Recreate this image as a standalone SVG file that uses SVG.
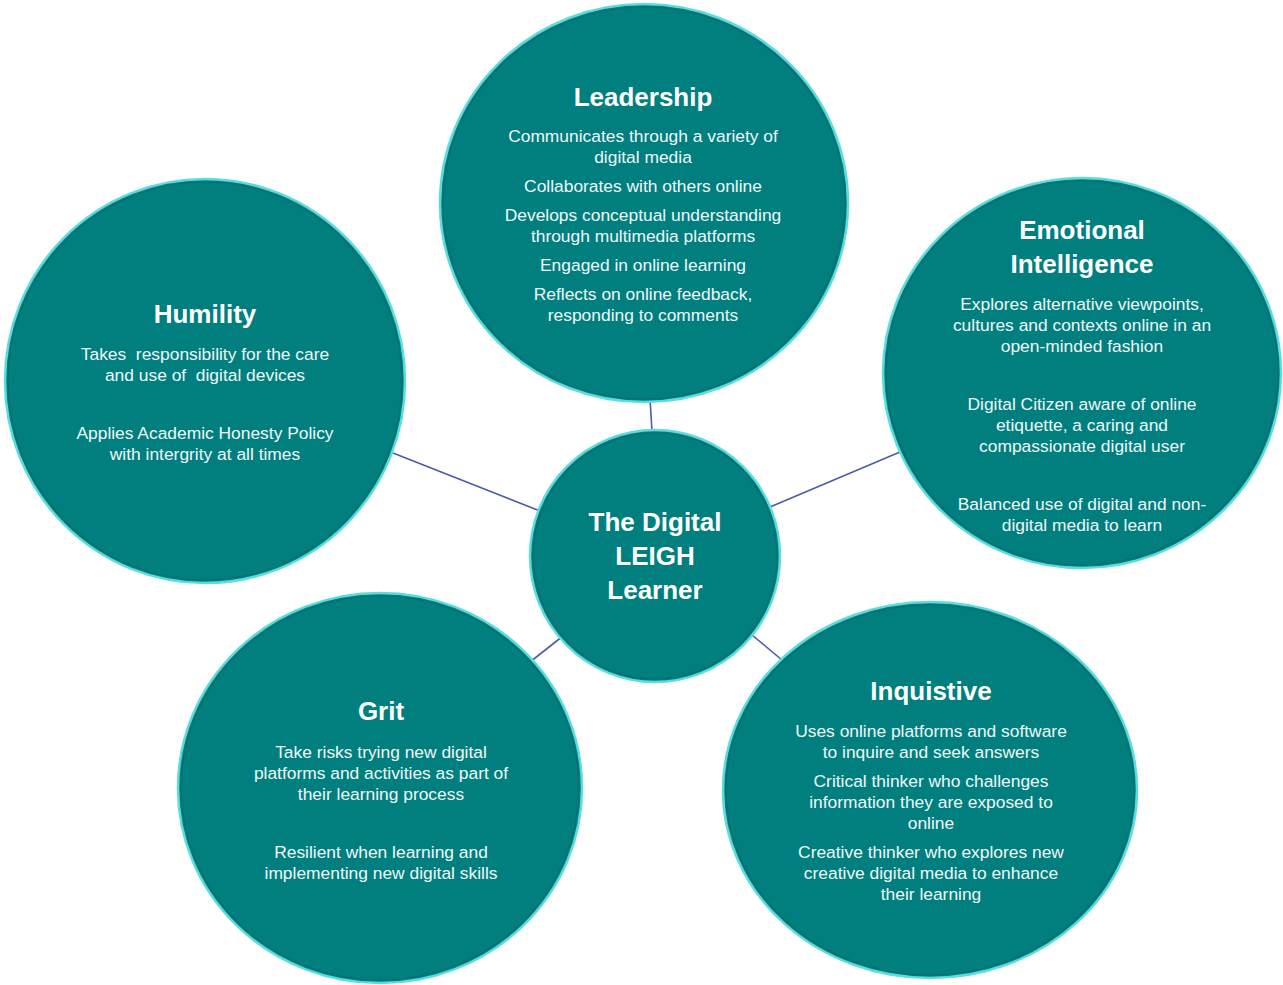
<svg xmlns="http://www.w3.org/2000/svg" width="1283" height="985" viewBox="0 0 1283 985">
<style>
.node{fill:#017f7e;stroke:#5cdcdc;stroke-width:2.5}
.rim{fill:none;stroke:#0a6e6e;stroke-width:1.2}
.t{font-family:"Liberation Sans",Arial,sans-serif;font-weight:bold;font-size:26px;fill:#ffffff;text-anchor:middle}
.b{font-family:"Liberation Sans",Arial,sans-serif;font-size:17.4px;fill:#eef8f8;text-anchor:middle;white-space:pre}
.c{stroke:#4a5ca8;stroke-width:1.6;fill:none}
</style>
<rect width="1283" height="985" fill="#ffffff"/>
<g id="connectors">
<line class="c" x1="650" y1="398" x2="652" y2="432"/>
<line class="c" x1="393" y1="453" x2="540" y2="511"/>
<line class="c" x1="900" y1="452" x2="770" y2="507"/>
<line class="c" x1="530" y1="662" x2="563" y2="636"/>
<line class="c" x1="752" y1="635" x2="782" y2="660"/>
</g>
<g id="leadership">
<ellipse class="node" cx="644" cy="203" rx="204" ry="199"/>
<ellipse class="rim" cx="644" cy="203" rx="201" ry="196"/>
<text class="t" x="643" y="106">Leadership</text>
<text class="b" x="643" y="142">Communicates through a variety of</text>
<text class="b" x="643" y="163">digital media</text>
<text class="b" x="643" y="192">Collaborates with others online</text>
<text class="b" x="643" y="221">Develops conceptual understanding</text>
<text class="b" x="643" y="242">through multimedia platforms</text>
<text class="b" x="643" y="271">Engaged in online learning</text>
<text class="b" x="643" y="300">Reflects on online feedback,</text>
<text class="b" x="643" y="321">responding to comments</text>
</g>
<g id="humility">
<ellipse class="node" cx="205" cy="381" rx="200" ry="202"/>
<ellipse class="rim" cx="205" cy="381" rx="197" ry="199"/>
<text class="t" x="205" y="323">Humility</text>
<text class="b" x="205" y="360" xml:space="preserve">Takes  responsibility for the care</text>
<text class="b" x="205" y="381" xml:space="preserve">and use of  digital devices</text>
<text class="b" x="205" y="439">Applies Academic Honesty Policy</text>
<text class="b" x="205" y="460">with intergrity at all times</text>
</g>
<g id="emotional-intelligence">
<ellipse class="node" cx="1082" cy="373" rx="199" ry="195"/>
<ellipse class="rim" cx="1082" cy="373" rx="196" ry="192"/>
<text class="t" x="1082" y="239">Emotional</text>
<text class="t" x="1082" y="273">Intelligence</text>
<text class="b" x="1082" y="310">Explores alternative viewpoints,</text>
<text class="b" x="1082" y="331">cultures and contexts online in an</text>
<text class="b" x="1082" y="352">open-minded fashion</text>
<text class="b" x="1082" y="410">Digital Citizen aware of online</text>
<text class="b" x="1082" y="431">etiquette, a caring and</text>
<text class="b" x="1082" y="452">compassionate digital user</text>
<text class="b" x="1082" y="510">Balanced use of digital and non-</text>
<text class="b" x="1082" y="531">digital media to learn</text>
</g>
<g id="center">
<ellipse class="node" cx="655" cy="556" rx="125" ry="126"/>
<ellipse class="rim" cx="655" cy="556" rx="122" ry="123"/>
<text class="t" x="655" y="531">The Digital</text>
<text class="t" x="655" y="565">LEIGH</text>
<text class="t" x="655" y="599">Learner</text>
</g>
<g id="grit">
<ellipse class="node" cx="380" cy="788" rx="202" ry="195"/>
<ellipse class="rim" cx="380" cy="788" rx="199" ry="192"/>
<text class="t" x="381" y="720">Grit</text>
<text class="b" x="381" y="758">Take risks trying new digital</text>
<text class="b" x="381" y="779">platforms and activities as part of</text>
<text class="b" x="381" y="800">their learning process</text>
<text class="b" x="381" y="858">Resilient when learning and</text>
<text class="b" x="381" y="879">implementing new digital skills</text>
</g>
<g id="inquistive">
<ellipse class="node" cx="930" cy="790" rx="207" ry="188"/>
<ellipse class="rim" cx="930" cy="790" rx="204" ry="185"/>
<text class="t" x="931" y="700">Inquistive</text>
<text class="b" x="931" y="737">Uses online platforms and software</text>
<text class="b" x="931" y="758">to inquire and seek answers</text>
<text class="b" x="931" y="787">Critical thinker who challenges</text>
<text class="b" x="931" y="808">information they are exposed to</text>
<text class="b" x="931" y="829">online</text>
<text class="b" x="931" y="858">Creative thinker who explores new</text>
<text class="b" x="931" y="879">creative digital media to enhance</text>
<text class="b" x="931" y="900">their learning</text>
</g>
</svg>
